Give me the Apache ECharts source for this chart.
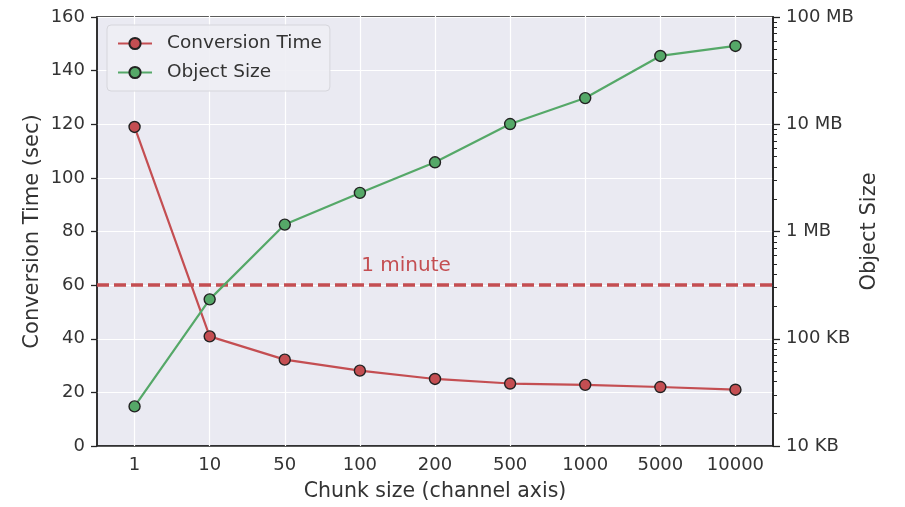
<!DOCTYPE html>
<html><head><meta charset="utf-8">
<script src="https://cdn.jsdelivr.net/npm/echarts@6/dist/echarts.min.js"></script>
<style>html,body{margin:0;padding:0;background:#fff}#c{width:905px;height:507px}</style>
</head><body><div id="c"></div>
<script>
const categories = ['1','10','50','100','200','500','1000','5000','10000'];
const conversionTime = [119, 40.9, 32.2, 28.1, 25.0, 23.3, 22.8, 22.0, 21.0];
const objectSizeKB = [23.4, 233, 1160, 2290, 4420, 10050, 17540, 43350, 53700];
const leftTicks = [0, 160, 20];
const rightMinorTicks = [20,30,40,50,60,70,80,90,200,300,400,500,600,700,800,900,
  2000,3000,4000,5000,6000,7000,8000,9000,20000,30000,40000,50000,60000,70000,80000,90000];
const oneMinute = 60;

const RED = '#c44e52', GREEN = '#55a868', TXT = '#333', FONT = 'DejaVu Sans', SPINE = '#262626';
const chart = echarts.init(document.getElementById('c'));
chart.setOption({
  animation: false,
  textStyle: {fontFamily: FONT},
  grid: {left: 97, right: 132, top: 17, bottom: 60, show: true,
    backgroundColor: '#eaeaf2', borderColor: SPINE, borderWidth: 1.5},
  legend: {
    orient: 'vertical', left: 107, top: 25,
    backgroundColor: 'rgba(238,238,244,0.9)', borderColor: '#d6d6dc', borderWidth: 1, borderRadius: 4,
    padding: [8, 8, 8, 10], itemWidth: 34, itemHeight: 14, itemGap: 8,
    textStyle: {fontFamily: FONT, fontSize: 18.5, color: TXT, lineHeight: 21, padding: [0, 0, 0, 10]},
    data: ['Conversion Time', 'Object Size']
  },
  xAxis: {
    type: 'category', data: categories, boundaryGap: true,
    name: 'Chunk size (channel axis)', nameLocation: 'middle', nameGap: 35,
    nameTextStyle: {fontSize: 20.5, color: TXT, fontFamily: FONT},
    axisLine: {show: true, lineStyle: {color: SPINE, width: 1.5}},
    axisTick: {show: true, alignWithLabel: true, inside: true, length: 430,
      lineStyle: {color: '#ffffff', width: 1.2}},
    axisLabel: {fontSize: 18, color: TXT, margin: 10, fontFamily: FONT},
    splitLine: {show: false}
  },
  yAxis: [
    {
      type: 'value', min: leftTicks[0], max: leftTicks[1], interval: leftTicks[2],
      name: 'Conversion Time (sec)', nameLocation: 'middle', nameGap: 54, nameMoveOverlap: false,
      nameTextStyle: {fontSize: 21, color: TXT, fontFamily: FONT},
      axisLine: {show: true, lineStyle: {color: SPINE, width: 1.5}},
      axisTick: {show: true, length: 6, lineStyle: {color: SPINE, width: 1.3}},
      axisLabel: {fontSize: 18, color: TXT, margin: 12, fontFamily: FONT},
      splitLine: {show: true, lineStyle: {color: '#ffffff', width: 1.2}}
    },
    {
      type: 'log', logBase: 10, min: 10, max: 100000, position: 'right',
      name: 'Object Size', nameLocation: 'middle', nameGap: 86, nameRotate: 90, nameMoveOverlap: false,
      nameTextStyle: {fontSize: 21, color: TXT, fontFamily: FONT},
      axisLine: {show: true, lineStyle: {color: SPINE, width: 1.8}},
      axisTick: {show: true, length: 7, lineStyle: {color: SPINE, width: 1.3}},
      axisLabel: {fontSize: 18, color: TXT, margin: 13, fontFamily: FONT,
        formatter: v => v >= 1000 ? (v / 1000) + ' MB' : v + ' KB'},
      splitLine: {show: false}
    },
    {
      type: 'log', logBase: 10, min: 10, max: 100000, position: 'right',
      axisLine: {show: false},
      axisTick: {show: true, length: 4, customValues: rightMinorTicks, lineStyle: {color: SPINE, width: 1}},
      axisLabel: {show: false},
      splitLine: {show: false}
    }
  ],
  series: [
    {
      name: 'Conversion Time', type: 'line', yAxisIndex: 0, data: conversionTime,
      symbol: 'circle', symbolSize: 11, color: RED,
      lineStyle: {color: RED, width: 2.2},
      itemStyle: {color: RED, borderColor: '#222', borderWidth: 1.4},
      z: 3,
      markLine: {
        silent: true, symbol: 'none', z: 2,
        lineStyle: {color: RED, width: 3.5, type: [12, 5]},
        label: {show: true, position: 'insideMiddleTop', formatter: '1 minute',
          color: RED, fontSize: 20, fontFamily: FONT, distance: 9, padding: [0, 58, 0, 0]},
        data: [{yAxis: oneMinute}]
      }
    },
    {
      name: 'Object Size', type: 'line', yAxisIndex: 1, data: objectSizeKB,
      symbol: 'circle', symbolSize: 11, color: GREEN,
      lineStyle: {color: GREEN, width: 2.2},
      itemStyle: {color: GREEN, borderColor: '#222', borderWidth: 1.4},
      z: 3
    }
  ]
});
</script></body></html>
